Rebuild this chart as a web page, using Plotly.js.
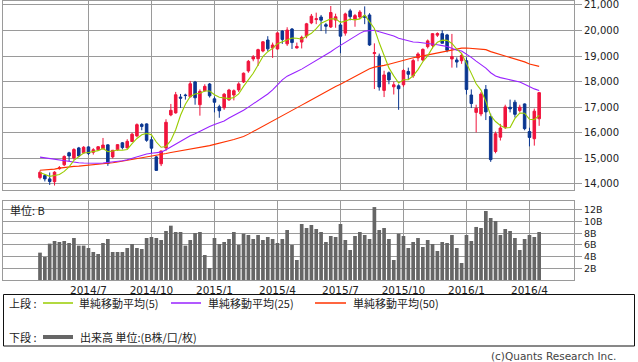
<!DOCTYPE html>
<html><head><meta charset="utf-8">
<script src="https://cdn.plot.ly/plotly-3.0.1.min.js"></script>
<style>html,body{margin:0;padding:0;background:#fff;}#chart{width:638px;height:362px;}</style>
</head><body><div id="chart"></div>
<script>
// ---- data (weekly, Monday dates) ----
const weeks = [
"2014-04-28","2014-05-05","2014-05-12","2014-05-19","2014-05-26","2014-06-02","2014-06-09","2014-06-16","2014-06-23","2014-06-30",
"2014-07-07","2014-07-14","2014-07-21","2014-07-28","2014-08-04","2014-08-11","2014-08-18","2014-08-25","2014-09-01","2014-09-08",
"2014-09-15","2014-09-22","2014-09-29","2014-10-06","2014-10-13","2014-10-20","2014-10-27","2014-11-03","2014-11-10","2014-11-17",
"2014-11-24","2014-12-01","2014-12-08","2014-12-15","2014-12-22","2014-12-29","2015-01-05","2015-01-12","2015-01-19","2015-01-26",
"2015-02-02","2015-02-09","2015-02-16","2015-02-23","2015-03-02","2015-03-09","2015-03-16","2015-03-23","2015-03-30","2015-04-06",
"2015-04-13","2015-04-20","2015-04-27","2015-05-04","2015-05-11","2015-05-18","2015-05-25","2015-06-01","2015-06-08","2015-06-15",
"2015-06-22","2015-06-29","2015-07-06","2015-07-13","2015-07-20","2015-07-27","2015-08-03","2015-08-10","2015-08-17","2015-08-24",
"2015-08-31","2015-09-07","2015-09-14","2015-09-21","2015-09-28","2015-10-05","2015-10-12","2015-10-19","2015-10-26","2015-11-02",
"2015-11-09","2015-11-16","2015-11-23","2015-11-30","2015-12-07","2015-12-14","2015-12-21","2015-12-28","2016-01-04","2016-01-11",
"2016-01-18","2016-01-25","2016-02-01","2016-02-08","2016-02-15","2016-02-22","2016-02-29","2016-03-07","2016-03-14","2016-03-21",
"2016-03-28","2016-04-04","2016-04-11","2016-04-18"];
const open = [
14250,14330,14200,14090,14600,14750,15220,15020,15410,15220,
15450,15240,15340,15380,15530,15060,15340,15610,15410,15660,
15880,16330,16350,15730,15060,14790,15410,16700,16780,17400,
17480,17410,17990,17100,17650,17910,17330,17020,16980,17290,
17480,17680,17990,18420,18890,18900,19200,19630,19320,19280,
19980,19480,20060,19320,19550,19790,20300,20430,20530,20230,
20140,20410,20220,19900,20770,20450,20530,20570,20610,19100,
19000,17660,18350,17800,17840,17880,18400,18230,18930,18850,
19370,19420,19820,19880,19830,18890,18850,18820,18820,17480,
16800,16740,17700,16640,15270,15830,16220,17000,17200,16870,
17130,16050,15770,16550];
const high = [
14530,14380,14450,14500,14700,15120,15260,15400,15450,15480,
15480,15400,15480,15800,15550,15330,15560,15640,15750,16000,
16370,16380,16370,15850,15100,15300,16530,17130,17600,17520,
17530,18030,18030,17700,17900,17950,17420,17100,17560,17720,
17700,17980,18360,18850,19040,19290,19590,19780,19530,19950,
20010,20130,20100,19530,19800,20300,20650,20700,20610,20300,
20960,20660,20360,20700,20850,20650,20800,20946,20680,19500,
19100,18430,18400,18000,17900,18500,18550,18900,19150,19300,
19650,19900,19930,20012,19870,19869,18950,19130,18950,17700,
17100,17600,17870,16750,16050,16350,17100,17300,17290,17100,
17150,16200,16950,17600];
const low = [
14180,14100,13964,13940,14560,14700,14890,14950,15050,15180,
15130,15150,15300,15350,14710,15000,15300,15350,15400,15640,
15830,16100,15650,15200,14529,14700,15300,16650,16750,16970,
17300,17380,17100,16672,17600,17380,16800,16590,16900,17250,
17270,17600,17950,18350,18800,18620,19150,19200,18930,19250,
19480,19400,19280,19300,19300,19700,20250,20250,19980,19880,
20100,20110,19115,19800,20400,20150,20450,20250,19400,17714,
17650,17400,17900,17500,16901,17800,18100,18150,18800,18800,
19300,19300,19750,19500,19150,18550,18550,18700,17500,16970,
16017,16650,16500,14865,15200,15700,16150,16800,16600,16800,
16100,15471,15500,16275];
const close = [
14457,14199,14096,14462,14632,15077,15097,15349,15095,15437,
15190,15340,15457,15523,14800,15318,15539,15424,15668,15948,
16321,16250,15708,15400,14532,15291,16413,16880,17490,17357,
17459,17920,17371,17621,17818,17450,17197,16864,17511,17674,
17648,17913,18332,18797,18971,19254,19560,19286,19435,19908,
19653,20020,19531,19379,19733,20264,20563,20461,20407,20170,
20706,20540,19780,20650,20544,20585,20724,20519,19436,19136,
17792,18264,18070,17880,17725,18438,18291,18826,19083,19265,
19596,19879,19883,19504,19230,18986,18769,19033,17697,17147,
16958,17518,16819,14952,15967,16188,17014,16938,16724,17002,
16164,15821,16848,17572];
const ma5 = [
14450,14360,14300,14330,14369,14493,14673,14923,15050,15211,
15234,15282,15304,15389,15262,15288,15327,15321,15350,15579,
15780,15922,15979,15925,15642,15436,15469,15703,16121,16686,
17120,17421,17519,17546,17638,17636,17491,17390,17368,17339,
17379,17522,17816,18073,18332,18653,18983,19174,19301,19489,
19568,19660,19709,19698,19663,19785,19894,20080,20286,20373,
20461,20457,20321,20369,20444,20420,20457,20604,20362,20080,
19521,19029,18540,18228,17946,18075,18081,18232,18473,18781,
19012,19330,19541,19625,19618,19496,19274,19104,18743,18326,
17921,17671,17228,16679,16443,16289,16188,16212,16566,16773,
16768,16530,16512,16681];
const ma25 = [
15050,15020,14990,14960,14930,14900,14870,14850,14830,14820,
14810,14800,14810,14820,14840,14860,14880,14910,14950,15010,
15070,15130,15170,15200,15213,15246,15335,15446,15567,15676,
15771,15884,15965,16066,16162,16252,16326,16382,16462,16577,
16670,16765,16881,17007,17128,17245,17377,17520,17682,17897,
18071,18216,18322,18397,18492,18604,18710,18834,18945,19039,
19169,19303,19420,19545,19660,19778,19890,19978,20003,20010,
19951,19899,19851,19789,19701,19653,19584,19555,19543,19525,
19498,19471,19448,19411,19374,19305,19234,19204,19086,18950,
18805,18677,18529,18350,18223,18159,18109,18063,18017,17988,
17897,17799,17719,17659];
const ma50 = [
14540,14550,14560,14580,14620,14650,14670,14690,14700,14715,
14730,14750,14770,14785,14800,14830,14860,14890,14920,14960,
14990,15020,15050,15080,15110,15150,15190,15230,15260,15290,
15320,15350,15380,15410,15450,15500,15550,15590,15640,15690,
15740,15790,15860,15950,16050,16160,16260,16360,16460,16555,
16659,16775,16884,16982,17084,17188,17297,17399,17506,17600,
17711,17815,17901,18004,18119,18224,18328,18430,18505,18569,
18598,18638,18686,18735,18799,18862,18900,18938,18970,19008,
19051,19090,19141,19178,19207,19237,19269,19312,19316,19305,
19291,19284,19253,19176,19116,19055,19004,18957,18903,18845,
18775,18691,18637,18601];
const volume = [
4.69,3.94,6.23,6.69,6.51,6.69,6.34,7.2,5.89,5.89,
5.49,4.8,4.46,6.34,7.03,4.8,4.8,4.8,5.49,6.17,
5.49,5.31,7.2,7.37,7.2,6.86,8.4,9.31,8.23,8.23,
5.89,6.86,8.06,8.23,4.29,2.06,7.2,6.17,6.51,7.03,
8.23,6.0,7.94,7.71,7.03,7.71,6.86,7.37,7.03,6.34,
7.03,8.57,6.0,3.43,9.6,8.91,9.43,8.74,8.23,6.51,
7.54,7.37,9.6,6.86,5.14,7.54,8.23,7.71,7.03,12.5,
8.57,8.91,7.03,3.43,7.94,7.54,5.49,6.51,7.2,5.66,
6.86,6.17,4.97,6.51,6.34,7.71,5.49,2.91,7.71,6.69,
9.09,8.91,11.83,10.63,10.11,7.71,8.74,8.4,7.2,5.14,
7.03,7.71,7.37,8.23];
const quarterTicks = ["2014-07-07","2014-10-06","2015-01-05","2015-04-06","2015-07-06","2015-10-05","2016-01-04","2016-04-04"];
const quarterLabels = ["2014/7","2014/10","2015/1","2015/4","2015/7","2015/10","2016/1","2016/4"];
const priceTicks = [14000,15000,16000,17000,18000,19000,20000,21000];
const volumeTicks = [2,4,6,8,10,12];
const volumeLabels = ["2B","4B","6B","8B","10B","12B"];
const legendNames = ["単純移動平均(5)","単純移動平均(25)","単純移動平均(50)"];

// ---- styling ----
const RED = "#f0143c", BLUE = "#0a3690";
const C5 = "#99cc00", C25 = "#9922ff", C50 = "#ff3300", VOL = "#666666";
const GRID = "#9a9a9a";
const NUMFONT = "'DejaVu Sans', sans-serif";
const FONT = "'DejaVu Sans', 'Noto Sans CJK JP', sans-serif";
const JFONT = "'Noto Sans CJK JP', sans-serif";
const L=3, R=574, T=1, B=280;
const px = x => (x-L)/(R-L);
const py = y => (B-y)/(B-T);
const xr = [-7.635, 110.19];

const traces = [
  {type:"candlestick", x:weeks, open:open, high:high, low:low, close:close,
   xaxis:"x", yaxis:"y", whiskerwidth:0, hoverinfo:"skip", showlegend:false,
   increasing:{line:{color:RED,width:1}, fillcolor:RED},
   decreasing:{line:{color:BLUE,width:1}, fillcolor:BLUE}},
  {type:"scatter", mode:"lines", x:weeks, y:ma50, xaxis:"x", yaxis:"y", line:{color:C50,width:1.1}, hoverinfo:"skip", showlegend:false},
  {type:"scatter", mode:"lines", x:weeks, y:ma25, xaxis:"x", yaxis:"y", line:{color:C25,width:1.1}, hoverinfo:"skip", showlegend:false},
  {type:"scatter", mode:"lines", x:weeks, y:ma5, xaxis:"x", yaxis:"y", line:{color:C5,width:1.1}, hoverinfo:"skip", showlegend:false},
  {type:"bar", x:weeks, y:volume, xaxis:"x2", yaxis:"y2", width:0.76, marker:{color:VOL,line:{width:0}}, hoverinfo:"skip", showlegend:false}
];

const axCommon = {showgrid:true, gridcolor:GRID, gridwidth:1, showline:true, linecolor:GRID, linewidth:1, mirror:true, zeroline:false};
const layout = {
  width:638, height:362, autosize:false,
  margin:{l:L, r:638-R, t:T, b:362-B, pad:0},
  paper_bgcolor:"#fff", plot_bgcolor:"#fff",
  font:{family:FONT, size:11, color:"#222"},
  showlegend:false, boxgap:0.25,
  xaxis:Object.assign({}, axCommon, {type:"category", range:xr, anchor:"y", tickvals:quarterTicks, ticktext:quarterLabels, showticklabels:false, ticks:"", rangeslider:{visible:false}}),
  yaxis:Object.assign({}, axCommon, {domain:[py(190),1], range:[13765,21156], side:"right", tickvals:priceTicks, tickformat:",d", ticks:"outside", ticklen:7, tickcolor:GRID, tickwidth:1, ticklabeloverflow:"allow", ticklabelshift:-1.5, tickfont:{family:NUMFONT, size:10, color:"#222"}}),
  xaxis2:Object.assign({}, axCommon, {type:"category", range:xr, anchor:"y2", tickvals:quarterTicks, ticktext:quarterLabels, showticklabels:true, ticks:"", tickfont:{family:NUMFONT, size:10.5, color:"#222"}, rangeslider:{visible:false}}),
  yaxis2:Object.assign({}, axCommon, {domain:[0,py(201)], range:[0,13.54], side:"right", tickvals:volumeTicks, ticktext:volumeLabels, ticks:"outside", ticklen:7, tickcolor:GRID, tickwidth:1, tickfont:{family:NUMFONT, size:9.5, color:"#222"}}),
  shapes:[
    {type:"rect", xref:"paper", yref:"paper", x0:px(3.5), x1:px(634.5), y0:py(294.5), y1:py(346), line:{color:"#111",width:1}},
    {type:"line", xref:"paper", yref:"paper", x0:px(43), x1:px(73), y0:py(303), y1:py(303), line:{color:C5,width:1.5}},
    {type:"line", xref:"paper", yref:"paper", x0:px(171), x1:px(201), y0:py(303), y1:py(303), line:{color:C25,width:1.5}},
    {type:"line", xref:"paper", yref:"paper", x0:px(315), x1:px(346), y0:py(303), y1:py(303), line:{color:C50,width:1.5}},
    {type:"line", xref:"paper", yref:"paper", x0:px(43), x1:px(73), y0:py(337), y1:py(337), line:{color:VOL,width:4}}
  ],
  annotations:[
    {xref:"paper", yref:"paper", x:px(8), y:py(210), xanchor:"left", yanchor:"middle", text:"単位: B", showarrow:false, font:{family:JFONT, size:11,color:"#222"}},
    {xref:"paper", yref:"paper", x:px(7), y:py(303), xanchor:"left", yanchor:"middle", text:"上段 :", showarrow:false, font:{family:JFONT, size:11,color:"#222"}},
    {xref:"paper", yref:"paper", x:px(77), y:py(303), xanchor:"left", yanchor:"middle", text:legendNames[0], showarrow:false, font:{family:JFONT, size:11,color:"#222"}},
    {xref:"paper", yref:"paper", x:px(206), y:py(303), xanchor:"left", yanchor:"middle", text:legendNames[1], showarrow:false, font:{family:JFONT, size:11,color:"#222"}},
    {xref:"paper", yref:"paper", x:px(351), y:py(303), xanchor:"left", yanchor:"middle", text:legendNames[2], showarrow:false, font:{family:JFONT, size:11,color:"#222"}},
    {xref:"paper", yref:"paper", x:px(7), y:py(337), xanchor:"left", yanchor:"middle", text:"下段 :", showarrow:false, font:{family:JFONT, size:11,color:"#222"}},
    {xref:"paper", yref:"paper", x:px(78), y:py(337), xanchor:"left", yanchor:"middle", text:"出来高 単位:(B株/口/枚)", showarrow:false, font:{family:JFONT, size:11,color:"#222"}},
    {xref:"paper", yref:"paper", x:px(618), y:py(356), xanchor:"right", yanchor:"middle", text:"(c)Quants Research Inc.", showarrow:false, font:{family:NUMFONT, size:10.5,color:"#444"}}
  ]
};
Plotly.newPlot("chart", traces, layout, {staticPlot:true, displayModeBar:false});
</script></body></html>
